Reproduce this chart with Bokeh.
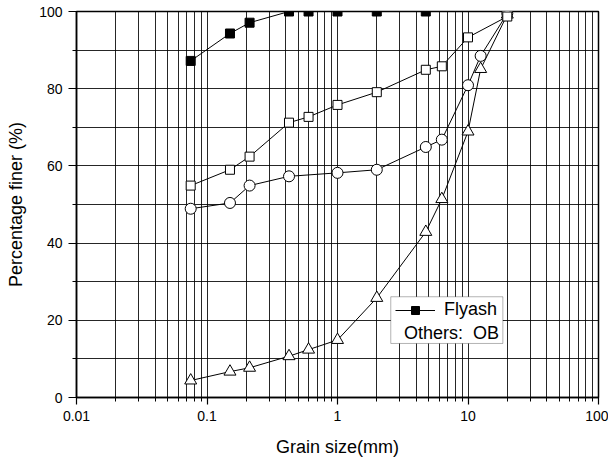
from bokeh.plotting import figure
from bokeh.models import (FixedTicker, Legend, LegendItem, BoxAnnotation,
                          Label, CustomJSTickFormatter)
from bokeh.embed import file_html
from bokeh.resources import INLINE

# ---- data ----
flyash_x = [0.075, 0.15, 0.212, 0.425, 0.6, 1.0, 2.0, 4.75]
flyash_y = [87.2, 94.3, 97.1, 100, 100, 100, 100, 100]

ob1_x = [0.075, 0.15, 0.212, 0.425, 0.6, 1.0, 2.0, 4.75, 6.3, 10, 20]
ob1_y = [54.9, 59.0, 62.4, 71.2, 72.7, 75.8, 79.1, 84.9, 85.8, 93.3, 98.7]

ob2_x = [0.075, 0.15, 0.212, 0.425, 1.0, 2.0, 4.75, 6.3, 10, 12.5, 20]
ob2_y = [48.9, 50.4, 54.9, 57.3, 58.2, 59.0, 64.9, 66.8, 80.9, 88.5, 99.5]

ob3_x = [0.075, 0.15, 0.212, 0.425, 0.6, 1.0, 2.0, 4.75, 6.3, 10, 12.5, 20]
ob3_y = [4.4, 6.7, 7.7, 10.7, 12.4, 14.9, 25.8, 42.9, 51.4, 68.9, 85.1, 99.2]

x_major = [0.01, 0.1, 1, 10, 100]
x_minor = [m * d for d in [0.01, 0.1, 1, 10] for m in range(2, 10)]
y_major = [0, 20, 40, 60, 80, 100]
y_minor = [10, 30, 50, 70, 90]

FONT = "Liberation Sans"

p = figure(width=608, height=459, x_axis_type="log", x_range=(0.01, 100), y_range=(0, 100),
           output_backend="svg", toolbar_location=None,
           min_border_left=76, min_border_right=10, min_border_top=11, min_border_bottom=61)
p.outline_line_color = "black"
p.outline_line_width = 1.5

# axes
xa = p.xaxis[0]
xa.ticker = FixedTicker(ticks=x_major, minor_ticks=x_minor)
xa.formatter = CustomJSTickFormatter(code="return tick.toString()")
ya = p.yaxis[0]
ya.ticker = FixedTicker(ticks=y_major, minor_ticks=y_minor)

for ax in (xa, ya):
    ax.axis_line_color = "black"
    ax.axis_line_width = 1.5
    ax.major_tick_line_color = "black"
    ax.minor_tick_line_color = "black"
    ax.major_tick_line_width = 1.2
    ax.minor_tick_line_width = 1
    ax.major_tick_in = 0
    ax.minor_tick_in = 0
    ax.major_label_text_font = FONT
    ax.major_label_text_font_size = "14px"
    ax.major_label_text_color = "black"
    ax.axis_label_text_font = FONT
    ax.axis_label_text_font_size = "18px"
    ax.axis_label_text_font_style = "normal"
    ax.axis_label_text_color = "black"
    ax.major_label_standoff = 6
    ax.axis_label_standoff = 10

xa.major_tick_out = 7
xa.minor_tick_out = 4
xa.axis_label_standoff = 13
ya.major_tick_out = 8
ya.minor_tick_out = 4
xa.axis_label = "Grain size(mm)"
ya.axis_label = "Percentage finer (%)"

for g in (p.xgrid[0], p.ygrid[0]):
    g.grid_line_color = "black"
    g.grid_line_alpha = 0.85
    g.grid_line_width = 1
    g.minor_grid_line_color = "black"
    g.minor_grid_line_alpha = 0.85
    g.minor_grid_line_width = 1

# series
p.line(ob3_x, ob3_y, line_color="black", line_width=1)
p.scatter(ob3_x, ob3_y, marker="triangle", size=12, fill_color="white", line_color="black", line_width=1)
p.line(ob2_x, ob2_y, line_color="black", line_width=1)
p.scatter(ob2_x, ob2_y, marker="circle", size=11, fill_color="white", line_color="black", line_width=1)
p.line(ob1_x, ob1_y, line_color="black", line_width=1)
p.scatter(ob1_x, ob1_y, marker="square", size=9, fill_color="white", line_color="black", line_width=1)
fl = p.line(flyash_x, flyash_y, line_color="black", line_width=1)
fs = p.scatter(flyash_x, flyash_y, marker="square", size=9, fill_color="black", line_color="black")

# legend box
box = BoxAnnotation(left=2.56, right=18.5, bottom=14.0, top=26.1, fill_color="white", fill_alpha=1,
                    line_color="black", line_width=1)
p.add_layout(box)

legend = Legend(items=[LegendItem(label="Flyash", renderers=[fl, fs])], location=(319, 77),
                border_line_alpha=0, background_fill_alpha=0, padding=0, margin=0,
                glyph_width=40, glyph_height=20, label_standoff=9, label_height=20, spacing=0,
                label_text_font=FONT, label_text_font_size="18px", label_text_color="black")
p.add_layout(legend)

p.add_layout(Label(x=3.23, y=16.8, text="Others:\u00a0 OB", text_baseline="middle",
                   text_font=FONT, text_font_size="18px", text_color="black"))

open("out.html", "w").write(file_html(p, INLINE))
